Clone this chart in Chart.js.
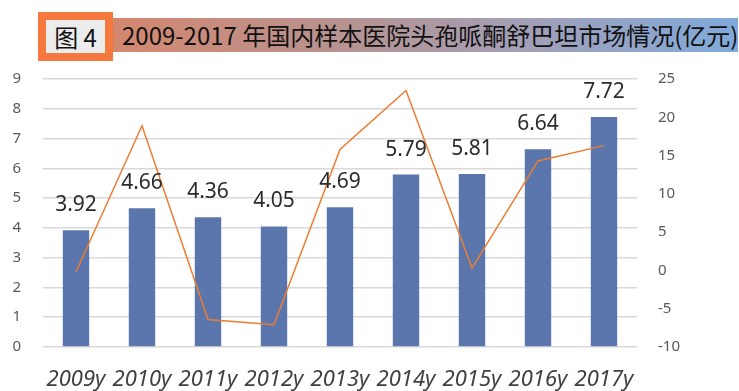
<!DOCTYPE html>
<html>
<head>
<meta charset="utf-8">
<script src="https://cdn.jsdelivr.net/npm/chart.js@4"></script>
<style>
  html, body { margin: 0; padding: 0; background: #fff; }
  #wrap { position: relative; width: 739px; height: 391px; overflow: hidden; }
  #fig {
    position: absolute; left: 38px; top: 12px; width: 59px; height: 33px;
    border: 8px solid #f5783f; background: #ececec;
    font: 24px "Noto Sans CJK SC", "Noto Sans", sans-serif; color: #111;
    text-align: center; line-height: 33px;
  }
  #title {
    position: absolute; left: 113px; top: 18px; width: 625px; height: 34px;
    background: linear-gradient(to right, #d4876f 0%, #b8928f 35%, #a39fb5 65%, #80aadb 100%);
    font: 24px "Noto Sans CJK SC", "Noto Sans", sans-serif; color: #111;
    line-height: 34px; padding-left: 9px; box-sizing: border-box; white-space: nowrap;
  }
  canvas { position: absolute; left: 0; top: 0; }
</style>
</head>
<body>
<div id="wrap">
  <div id="fig">图 4</div>
  <div id="title">2009-2017 年国内样本医院头孢哌酮舒巴坦市场情况(亿元)</div>
  <canvas id="myChart" width="739" height="391"></canvas>
</div>
<script>
// market size (亿元) and growth rate (%)
var years = ['2009y','2010y','2011y','2012y','2013y','2014y','2015y','2016y','2017y'];
var sales = [3.92, 4.66, 4.36, 4.05, 4.69, 5.79, 5.81, 6.64, 7.72];
var growth = [-0.2, 18.9, -6.4, -7.1, 15.8, 23.5, 0.3, 14.3, 16.3];

var barLabels = {
  id: 'barLabels',
  afterDatasetsDraw: function(chart) {
    var ctx = chart.ctx;
    var meta = chart.getDatasetMeta(1);
    ctx.save();
    ctx.font = '21px "Noto Sans", sans-serif';
    ctx.fillStyle = '#2b2b2b';
    ctx.textAlign = 'center';
    ctx.textBaseline = 'middle';
    meta.data.forEach(function(bar, i) {
      ctx.fillText(sales[i].toFixed(2), bar.x, bar.y - 25);
    });
    ctx.restore();
  }
};

new Chart(document.getElementById('myChart'), {
  data: {
    labels: years,
    datasets: [{
      type: 'line',
      data: growth,
      yAxisID: 'y1',
      borderColor: '#ed7d31',
      borderWidth: 1.5,
      pointRadius: 0,
      tension: 0,
      order: 0
    }, {
      type: 'bar',
      data: sales,
      yAxisID: 'y',
      backgroundColor: '#5a76ad',
      barPercentage: 0.8,
      categoryPercentage: 0.5,
      order: 1
    }]
  },
  options: {
    responsive: false,
    animation: false,
    layout: { padding: { top: 79, left: 0, right: 0, bottom: 0 } },
    plugins: {
      legend: { display: false },
      tooltip: { enabled: false }
    },
    scales: {
      x: {
        grid: { display: false },
        border: { display: false },
        ticks: {
          padding: 12,
          color: '#404040',
          font: { family: '"Noto Sans", sans-serif', size: 22, style: 'italic' },
          maxRotation: 0
        },
        afterFit: function(s) { s.height = 44; }
      },
      y: {
        position: 'left',
        min: 0, max: 9,
        grid: { color: '#d9d9d9', lineWidth: 1.5, drawTicks: false },
        border: { display: false },
        ticks: {
          stepSize: 1,
          padding: 22,
          color: '#595959',
          font: { family: '"Noto Sans", sans-serif', size: 15 }
        },
        afterFit: function(s) { s.width = 43; }
      },
      y1: {
        position: 'right',
        min: -10, max: 25,
        grid: { display: false, drawTicks: false },
        border: { display: false },
        ticks: {
          stepSize: 5,
          padding: 21,
          color: '#595959',
          font: { family: '"Noto Sans", sans-serif', size: 15 }
        },
        afterFit: function(s) { s.width = 102; }
      }
    }
  },
  plugins: [barLabels]
});
</script>
</body>
</html>
